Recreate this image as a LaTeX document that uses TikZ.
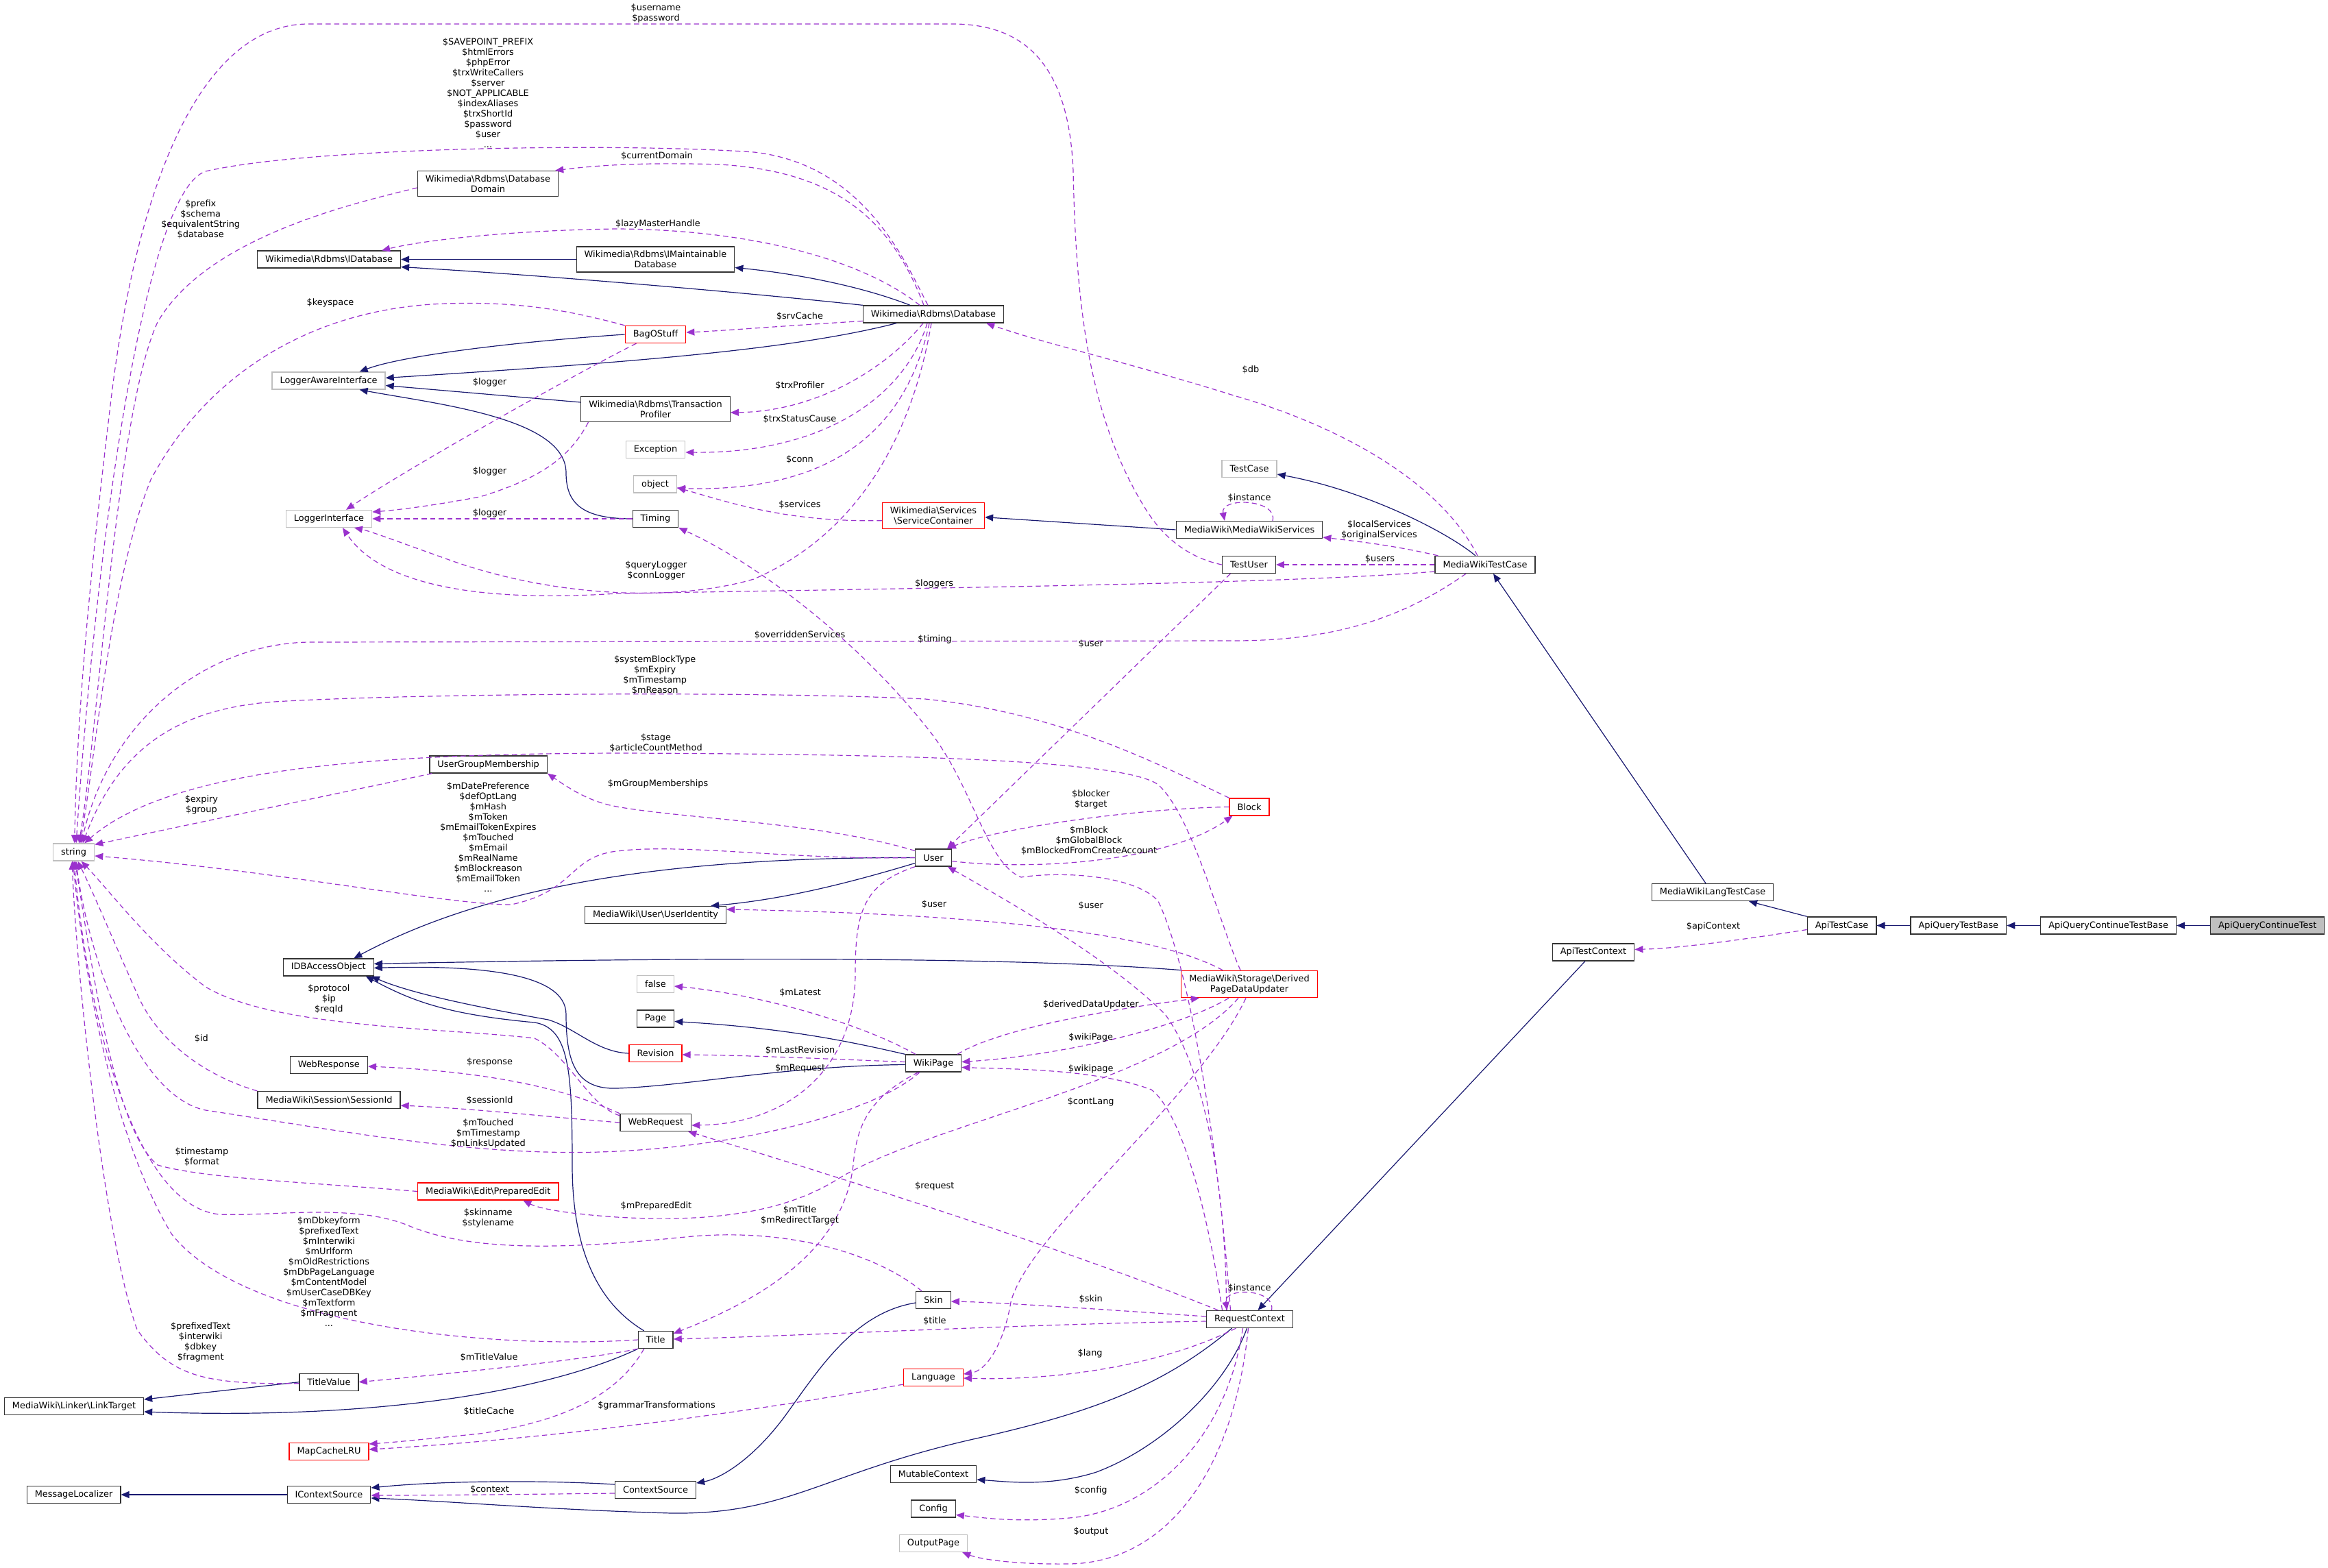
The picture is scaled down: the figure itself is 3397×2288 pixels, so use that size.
\documentclass[tikz,border=0pt]{standalone}
\usepackage{fontspec}
\setmainfont{DejaVu Sans}
\usepackage{tikz}
\usetikzlibrary{arrows.meta}
\definecolor{navyline}{HTML}{191970}
\definecolor{orchid}{HTML}{9A32CD}
\definecolor{greybox}{HTML}{BFBFBF}
\definecolor{redbox}{HTML}{FF0000}
\newcommand{\bsl}{\textbackslash}
\newcommand{\dxfont}{\fontsize{12.9}{15}\selectfont}
\tikzset{
  cls/.style={draw=black!80, fill=white, line width=1.3pt, font=\dxfont, align=center,
    inner xsep=11.5pt, inner ysep=6pt, minimum height=25pt},
  undoc/.style={cls, draw=greybox},
  trunc/.style={cls, draw=redbox},
  focus/.style={cls, fill=greybox},
  inherit/.style={draw=navyline, line width=1.2pt, -{Triangle[length=12pt,width=10pt]}},
  member/.style={draw=orchid, line width=1.2pt, dash pattern=on 7.5pt off 5pt,
    -{Triangle[length=12pt,width=10pt]}},
  lbl/.style={font=\dxfont, align=center, inner sep=0pt},
}

\begin{document}
\begin{tikzpicture}[x=1pt, y=-1pt]
  \useasboundingbox (0,0) rectangle (3397,2288);

  \node[cls] (dbdomain) at (712,268) {Wikimedia\bsl Rdbms\bsl Database\\Domain};
  \node[cls] (idatabase) at (480,378.5) {Wikimedia\bsl Rdbms\bsl IDatabase};
  \node[cls] (imaint) at (956.5,378.5) {Wikimedia\bsl Rdbms\bsl IMaintainable\\Database};
  \node[cls] (database) at (1362,458.5) {Wikimedia\bsl Rdbms\bsl Database};
  \node[trunc] (bagostuff) at (956.5,488) {BagOStuff};
  \node[undoc] (loggeraware) at (479.6,555.5) {LoggerAwareInterface};
  \node[cls] (trxprofiler) at (956.5,597) {Wikimedia\bsl Rdbms\bsl Transaction\\Profiler};
  \node[undoc] (exception) at (956.5,656) {Exception};
  \node[undoc] (object) at (956,706.5) {object};
  \node[undoc] (loggeriface) at (480,757) {LoggerInterface};
  \node[cls] (timing) at (956.5,757) {Timing};
  \node[trunc] (services) at (1362,752.7) {Wikimedia\bsl Services\\\bsl ServiceContainer};
  \node[undoc] (testcase) at (1823,684) {TestCase};
  \node[cls] (mwservices) at (1823,773) {MediaWiki\bsl MediaWikiServices};
  \node[cls] (testuser) at (1822.4,824) {TestUser};
  \node[cls] (mwtestcase) at (2167,824) {MediaWikiTestCase};
  \node[undoc] (string) at (107.6,1243.5) {string};
  \node[cls] (ugm) at (712.6,1115.5) {UserGroupMembership};
  \node[trunc] (block) at (1823,1177.4) {Block};
  \node[cls] (user) at (1362,1251.5) {User};
  \node[cls] (useridentity) at (956.5,1335) {MediaWiki\bsl User\bsl UserIdentity};
  \node[cls] (idbaccess) at (479.3,1411.4) {IDBAccessObject};
  \node[trunc] (derived) at (1823,1436) {MediaWiki\bsl Storage\bsl Derived\\PageDataUpdater};
  \node[undoc] (falsebox) at (956.5,1436) {false};
  \node[cls] (page) at (956.5,1486.5) {Page};
  \node[trunc] (revision) at (956.5,1537) {Revision};
  \node[cls] (wikipage) at (1362,1551.5) {WikiPage};
  \node[cls] (webrequest) at (956.8,1638) {WebRequest};
  \node[cls] (webresponse) at (479.8,1554) {WebResponse};
  \node[cls] (sessionid) at (480,1605) {MediaWiki\bsl Session\bsl SessionId};
  \node[trunc] (preparededit) at (712.3,1738.5) {MediaWiki\bsl Edit\bsl PreparedEdit};
  \node[cls] (skin) at (1362,1897) {Skin};
  \node[cls] (reqcontext) at (1823.5,1925) {RequestContext};
  \node[cls] (title) at (956.8,1955) {Title};
  \node[cls] (titlevalue) at (480,2016.7) {TitleValue};
  \node[cls] (linktarget) at (108,2052) {MediaWiki\bsl Linker\bsl LinkTarget};
  \node[trunc] (language) at (1362,2010) {Language};
  \node[trunc] (mapcache) at (480,2118) {MapCacheLRU};
  \node[cls] (mutablecontext) at (1362,2151) {MutableContext};
  \node[cls] (contextsource) at (956.5,2174) {ContextSource};
  \node[cls] (msglocalizer) at (107.6,2181) {MessageLocalizer};
  \node[cls] (icontextsource) at (480,2181) {IContextSource};
  \node[cls] (config) at (1362,2201.5) {Config};
  \node[undoc] (outputpage) at (1362,2252) {OutputPage};
  \node[cls] (mwlangtestcase) at (2499,1302) {MediaWikiLangTestCase};
  \node[cls] (apitestcontext) at (2325,1389.4) {ApiTestContext};
  \node[cls] (apitestcase) at (2687.6,1350.5) {ApiTestCase};
  \node[cls] (apiquerytestbase) at (2857.8,1350.5) {ApiQueryTestBase};
  \node[cls] (apiqcontbase) at (3076.6,1350.5) {ApiQueryContinueTestBase};
  \node[focus] (apiqcont) at (3308.7,1350.5) {ApiQueryContinueTest};

  \draw[inherit] (apiqcont) -- (apiqcontbase);
  \draw[inherit] (apiqcontbase) -- (apiquerytestbase);
  \draw[inherit] (apiquerytestbase) -- (apitestcase);
  \draw[inherit] (apitestcase.north west) -- ([xshift=53pt]mwlangtestcase.south);
  \draw[inherit] ([xshift=-10pt]mwlangtestcase.north) -- ([xshift=12pt]mwtestcase.south);
  \draw[inherit] ([xshift=-14pt]mwtestcase.north) .. controls (2110,775) and (1990,715) .. ([yshift=-8pt]testcase.east);
  \draw[inherit] (mwservices.west) -- ([yshift=-2pt]services.east);
  \draw[inherit] (imaint.west) -- (idatabase.east);
  \draw[inherit] (database.north west) .. controls (1100,428) and (800,402) .. ([yshift=-11pt]idatabase.east);
  \draw[inherit] ([xshift=-34pt]database.north) .. controls (1250,415) and (1150,398) .. ([yshift=-12pt]imaint.east);
  \draw[inherit] (bagostuff.west) .. controls (760,498) and (590,518) .. ([xshift=45pt]loggeraware.north);
  \draw[inherit] ([xshift=-54pt]database.south) .. controls (1150,512) and (900,530) .. ([yshift=4pt]loggeraware.east);
  \draw[inherit] ([yshift=10pt]trxprofiler.west) -- ([yshift=-7pt]loggeraware.east);
  \draw[inherit] (timing.west) .. controls (850,757) and (826,735) .. (826,690)
    .. controls (826,610) and (640,590) .. ([xshift=45pt]loggeraware.south);
  \draw[inherit] (user.west) .. controls (950,1250) and (700,1300) .. ([xshift=37pt]idbaccess.north);
  \draw[inherit] ([yshift=-8pt]user.west) .. controls (1250,1285) and (1150,1312) .. ([xshift=-23pt]useridentity.north east);
  \draw[inherit] (derived.north west) .. controls (1500,1398) and (1100,1395) .. ([yshift=5pt]idbaccess.east);
  \draw[inherit] (revision.west) .. controls (870,1535) and (840,1500) .. (800,1488)
    .. controls (700,1470) and (600,1450) .. ([xshift=-4pt]idbaccess.south east);
  \draw[inherit] ([xshift=-17pt]title.north) .. controls (870,1900) and (835,1820) .. (835,1700)
    .. controls (835,1560) and (830,1500) .. (780,1492) .. controls (650,1480) and (600,1460) .. ([xshift=-12pt]idbaccess.south east);
  \draw[inherit] ([yshift=-2pt]wikipage.west) .. controls (1150,1555) and (1000,1585) .. (900,1588)
    .. controls (840,1590) and (826,1550) .. (826,1480) .. controls (826,1420) and (700,1408) .. ([yshift=-1pt]idbaccess.east);
  \draw[inherit] (wikipage.north west) .. controls (1250,1522) and (1150,1500) .. ([yshift=-4pt]page.east);
  \draw[inherit] (title.south west) .. controls (800,2030) and (550,2072) .. ([yshift=-8pt]linktarget.east);
  \draw[inherit] (titlevalue.west) -- ([yshift=10pt]linktarget.east);
  \draw[inherit] ([yshift=-4pt]skin.west) .. controls (1250,1915) and (1200,1990) .. (1150,2060)
    .. controls (1100,2130) and (1050,2158) .. ([yshift=10pt]contextsource.east);
  \draw[inherit] ([xshift=-26pt]reqcontext.south) .. controls (1700,2020) and (1600,2060) .. (1420,2100)
    .. controls (1200,2150) and (1150,2210) .. (980,2208) .. controls (800,2203) and (650,2190) .. ([yshift=-5pt]icontextsource.east);
  \draw[inherit] ([yshift=8pt]contextsource.west) .. controls (800,2160) and (650,2160) .. ([yshift=10pt]icontextsource.east);
  \draw[inherit] (icontextsource.west) -- (msglocalizer.east);
  \draw[inherit] ([xshift=-4pt]reqcontext.south) .. controls (1790,2020) and (1700,2110) .. (1600,2148)
    .. controls (1530,2170) and (1470,2162) .. ([yshift=-8pt]mutablecontext.east);
  \draw[inherit] ([xshift=-12pt]apitestcontext.south) -- ([xshift=12pt]reqcontext.north);

  \draw[member] (testuser.west) .. controls (1740,815) and (1700,790) .. (1670,740)
    .. controls (1590,610) and (1570,450) .. (1566,250) .. controls (1560,100) and (1500,35) .. (1390,35)
    -- (450,35) .. controls (300,35) and (200,250) .. (160,600) .. controls (130,850) and (112,1050) .. (string.85);
  \draw[member] ([xshift=-8pt]database.north) .. controls (1320,380) and (1260,240) .. (1100,222)
    .. controls (900,208) and (450,215) .. (300,250) .. controls (210,280) and (140,800) .. (string.75);
  \draw[member] ([xshift=-14pt]database.north) .. controls (1300,320) and (1220,250) .. (1050,240)
    .. controls (950,237) and (880,240) .. ([xshift=-5pt]dbdomain.north east);
  \draw[member] ([yshift=-6pt]dbdomain.west) .. controls (500,300) and (300,350) .. (230,470)
    .. controls (170,600) and (145,1050) .. (string.60);
  \draw[member] ([xshift=-20pt]database.north) .. controls (1260,380) and (1100,335) .. (900,334)
    .. controls (750,336) and (620,350) .. ([xshift=-28pt]idatabase.north east);
  \draw[member] (bagostuff.north west) .. controls (820,450) and (750,440) .. (650,443)
    .. controls (450,450) and (300,550) .. (220,700) .. controls (160,850) and (140,1100) .. (string.55);
  \draw[member] ([xshift=-28pt]bagostuff.south) .. controls (850,540) and (600,680) .. ([xshift=25pt]loggeriface.north);
  \draw[member] ([xshift=-98pt]trxprofiler.south) .. controls (835,660) and (800,695) .. (700,725)
    .. controls (620,740) and (570,745) .. ([yshift=10pt]loggeriface.east);
  \draw[member] (timing.west) -- (loggeriface.east);
  \draw[member] ([yshift=-10pt]mwtestcase.west) .. controls (1900,850) and (1500,856) .. (900,866)
    .. controls (720,878) and (560,860) .. ([xshift=20pt]loggeriface.south);
  \draw[member] ([xshift=-3pt]database.south) .. controls (1330,640) and (1250,780) .. (1100,845)
    .. controls (980,880) and (800,870) .. (650,815) .. controls (580,790) and (540,775) .. ([xshift=37pt]loggeriface.south);
  \draw[member] ([yshift=-10pt]database.west) .. controls (1150,475) and (1050,483) .. ([yshift=3pt]bagostuff.east);
  \draw[member] ([xshift=-15pt]database.south) .. controls (1300,530) and (1200,600) .. ([yshift=-5pt]trxprofiler.east);
  \draw[member] ([xshift=-9pt]database.south) .. controls (1320,580) and (1200,662) .. ([yshift=-4pt]exception.east);
  \draw[member] ([xshift=-6pt]database.south) .. controls (1320,640) and (1200,718) .. ([yshift=-6pt]object.east);
  \draw[member] ([yshift=-7pt]services.west) .. controls (1150,762) and (1070,735) .. ([yshift=-5pt]object.east);
  \draw[member] ([xshift=-11pt]mwtestcase.north) .. controls (2100,700) and (1950,620) .. (1800,577)
    .. controls (1650,530) and (1520,500) .. ([xshift=-26pt]database.south east);
  \draw[member] ([xshift=34pt]mwservices.north) .. controls (1865,728) and (1780,725) .. ([xshift=-36pt]mwservices.north);
  \draw[member] ([xshift=-28pt]mwtestcase.south) .. controls (2050,900) and (1950,935) .. (1800,935)
    -- (450,937) .. controls (300,940) and (160,1050) .. (string.50);
  \draw[member] ([xshift=-27pt]testuser.south) -- ([xshift=20pt]user.north);
  \draw[member] (block.north west) .. controls (1700,1120) and (1550,1040) .. (1350,1020)
    .. controls (1100,1008) and (600,1012) .. (400,1024) .. controls (250,1035) and (170,1100) .. (string.45);
  \draw[member] ([xshift=-13pt]derived.north) .. controls (1780,1350) and (1740,1190) .. (1690,1145)
    .. controls (1640,1108) and (1300,1100) .. (900,1099) .. controls (550,1100) and (250,1120) .. (string.40);
  \draw[member] ([xshift=4pt]ugm.south west) -- (string.20);
  \draw[member] ([yshift=10pt]user.west) .. controls (1200,1200) and (1000,1195) .. (900,1177)
    .. controls (860,1170) and (830,1150) .. (ugm.south east);
  \draw[member] (user.west) .. controls (1150,1255) and (1000,1230) .. (900,1242)
    .. controls (830,1250) and (840,1300) .. (746,1320) .. controls (650,1320) and (400,1270) .. (string.-10);
  \draw[member] (block.west) .. controls (1650,1180) and (1450,1210) .. ([xshift=-6pt]user.north east);
  \draw[member] ([yshift=-5pt]user.east) .. controls (1500,1270) and (1700,1260) .. ([xshift=5pt]block.south west);
  \draw[member] ([xshift=-39pt]derived.north) .. controls (1700,1370) and (1500,1335) .. ([yshift=8pt]useridentity.east);
  \draw[member] ([xshift=-34pt]reqcontext.north) .. controls (1790,1750) and (1760,1560) .. (1700,1480)
    .. controls (1620,1400) and (1480,1320) .. ([xshift=-6pt]user.south east);
  \draw[member] ([xshift=-28pt]reqcontext.north) .. controls (1780,1700) and (1740,1420) .. (1690,1315)
    .. controls (1660,1280) and (1560,1270) .. (1490,1280) .. controls (1440,1260) and (1420,1150) .. (1359,1070)
    .. controls (1250,930) and (1100,820) .. (timing.south east);
  \draw[member] ([xshift=-30pt]derived.south) .. controls (1720,1500) and (1550,1540) .. ([yshift=2pt]wikipage.east);
  \draw[member] ([xshift=35pt]wikipage.north) .. controls (1450,1505) and (1600,1475) .. ([xshift=-73pt]derived.south);
  \draw[member] ([xshift=-40pt]reqcontext.north) .. controls (1760,1750) and (1720,1620) .. (1680,1590)
    .. controls (1600,1560) and (1480,1560) .. ([yshift=-6pt]wikipage.east);
  \draw[member] (user.south west) .. controls (1260,1290) and (1248,1330) .. (1248,1420)
    .. controls (1248,1560) and (1150,1640) .. ([yshift=-4pt]webrequest.east);
  \draw[member] ([xshift=-26pt]wikipage.north) .. controls (1250,1490) and (1100,1450) .. ([yshift=-3pt]falsebox.east);
  \draw[member] ([yshift=2pt]wikipage.west) .. controls (1200,1545) and (1100,1540) .. ([yshift=-2pt]revision.east);
  \draw[member] ([xshift=-22pt]wikipage.south) .. controls (1270,1600) and (1250,1640) .. (1245,1700)
    .. controls (1230,1830) and (1100,1900) .. ([yshift=-4pt]title.north east);
  \draw[member] ([xshift=-20pt]wikipage.south) .. controls (1280,1620) and (1100,1670) .. (900,1680)
    .. controls (700,1690) and (500,1650) .. (300,1620) .. controls (200,1600) and (130,1400) .. (string.-76);
  \draw[member] ([xshift=-46pt]reqcontext.north) .. controls (1600,1840) and (1300,1740) .. ([xshift=-5pt]webrequest.south east);
  \draw[member] (webrequest.north west) .. controls (850,1600) and (750,1565) .. ([yshift=-2pt]webresponse.east);
  \draw[member] (webrequest.west) .. controls (800,1630) and (700,1618) .. ([yshift=-8pt]sessionid.east);
  \draw[member] ([yshift=-3pt]webrequest.north west) .. controls (860,1615) and (830,1540) .. (780,1515)
    .. controls (650,1500) and (400,1500) .. (300,1440) .. controls (220,1380) and (160,1300) .. (string.-50);
  \draw[member] (sessionid.north west) .. controls (300,1570) and (230,1520) .. (200,1450)
    .. controls (160,1360) and (135,1300) .. (string.-66);
  \draw[member] (preparededit.west) .. controls (450,1725) and (300,1720) .. (230,1700)
    .. controls (170,1650) and (140,1450) .. (string.-82);
  \draw[member] ([xshift=-16pt]derived.south) .. controls (1700,1580) and (1350,1640) .. (1220,1722)
    .. controls (1150,1765) and (1050,1785) .. (900,1776) .. controls (840,1772) and (790,1765) .. ([xshift=51pt]preparededit.south);
  \draw[member] ([xshift=-17pt]skin.north) .. controls (1280,1830) and (1150,1790) .. (1000,1805)
    .. controls (850,1820) and (700,1830) .. (600,1790) .. controls (520,1755) and (400,1775) .. (320,1772)
    .. controls (200,1760) and (130,1500) .. (string.-88);
  \draw[member] (title.west) .. controls (700,1970) and (350,1930) .. (250,1800)
    .. controls (160,1650) and (120,1400) .. (string.-95);
  \draw[member] ([yshift=-2pt]titlevalue.west) .. controls (300,2020) and (250,2010) .. (200,1940)
    .. controls (150,1800) and (110,1400) .. (string.-100);
  \draw[member] (title.south west) .. controls (850,1985) and (650,2005) .. (titlevalue.east);
  \draw[member] ([xshift=-17pt]title.south) .. controls (910,2020) and (850,2070) .. (700,2092)
    .. controls (620,2100) and (570,2105) .. ([yshift=11pt]mapcache.east);
  \draw[member] ([yshift=-10pt]language.west) .. controls (1100,2060) and (800,2100) .. ([yshift=3pt]mapcache.east);
  \draw[member] ([yshift=-5pt]contextsource.west) .. controls (800,2180) and (650,2182) .. ([yshift=-1pt]icontextsource.east);
  \draw[member] ([yshift=4pt]reqcontext.west) .. controls (1600,1910) and (1450,1900) .. ([yshift=-2pt]skin.east);
  \draw[member] ([yshift=-3pt]reqcontext.west) .. controls (1500,1932) and (1200,1948) .. ([yshift=1pt]title.east);
  \draw[member] ([xshift=-20pt]reqcontext.south) .. controls (1700,1990) and (1550,2015) .. ([yshift=-1pt]language.east);
  \draw[member] ([xshift=-5pt]derived.south) .. controls (1750,1600) and (1500,1800) .. (1475,1900)
    .. controls (1465,1960) and (1440,2000) .. ([yshift=5pt]language.east);
  \draw[member] ([xshift=-10pt]reqcontext.south) .. controls (1790,2100) and (1680,2205) .. (1560,2215)
    .. controls (1480,2222) and (1430,2214) .. ([yshift=-9pt]config.east);
  \draw[member] ([xshift=-2pt]reqcontext.south) .. controls (1800,2150) and (1700,2280) .. (1560,2282)
    .. controls (1480,2283) and (1430,2275) .. ([xshift=-8pt]outputpage.south east);
  \draw[member] ([xshift=32pt]reqcontext.north) .. controls (1862,1880) and (1785,1878) .. ([xshift=-33pt]reqcontext.north);
  \draw[member] ([yshift=-6pt]apitestcase.west) .. controls (2550,1370) and (2450,1384) .. ([yshift=4pt]apitestcontext.east);
  \draw[member] ([xshift=5pt]mwtestcase.north west) .. controls (2030,795) and (1980,790) .. ([yshift=-11pt]mwservices.east);
  \draw[member] (mwtestcase.west) -- (testuser.east);

  \node[lbl] (lUserPass) at (957,19) {\$username\\\$password};
  \node[lbl] (lSavepoint) at (712,136) {\$SAVEPOINT\_PREFIX\\\$htmlErrors\\\$phpError\\\$trxWriteCallers\\\$server\\\$NOT\_APPLICABLE\\\$indexAliases\\\$trxShortId\\\$password\\\$user\\...};
  \node[lbl] (lPrefix) at (292.7,320.5) {\$prefix\\\$schema\\\$equivalentString\\\$database};
  \node[lbl] (lCurDomain) at (958.5,228) {\$currentDomain};
  \node[lbl] (lLazyMaster) at (960,327) {\$lazyMasterHandle};
  \node[lbl] (lKeyspace) at (482,442) {\$keyspace};
  \node[lbl] (lSrvCache) at (1167,462) {\$srvCache};
  \node[lbl] (lLoggerA) at (714.6,558.4) {\$logger};
  \node[lbl] (lTrxProfiler) at (1167,563) {\$trxProfiler};
  \node[lbl] (lTrxStatus) at (1167,612) {\$trxStatusCause};
  \node[lbl] (lConn) at (1167,671) {\$conn};
  \node[lbl] (lLoggerB) at (714.6,688) {\$logger};
  \node[lbl] (lServices) at (1167,737) {\$services};
  \node[lbl] (lLoggerC) at (714.6,749) {\$logger};
  \node[lbl] (lDb) at (1825,539.5) {\$db};
  \node[lbl] (lInstanceA) at (1823,727) {\$instance};
  \node[lbl] (lLocalServices) at (2012.4,773) {\$localServices\\\$originalServices};
  \node[lbl] (lUsers) at (2013.5,815.7) {\$users};
  \node[lbl] (lQueryLogger) at (957.4,832) {\$queryLogger\\\$connLogger};
  \node[lbl] (lLoggers) at (1363,852) {\$loggers};
  \node[lbl] (lOverridden) at (1167,927) {\$overriddenServices};
  \node[lbl] (lTiming) at (1364,932.5) {\$timing};
  \node[lbl] (lUserA) at (1591.7,940) {\$user};
  \node[lbl] (lSystemBlock) at (955.7,984.7) {\$systemBlockType\\\$mExpiry\\\$mTimestamp\\\$mReason};
  \node[lbl] (lStage) at (957,1084) {\$stage\\\$articleCountMethod};
  \node[lbl] (lGroupMem) at (960,1144) {\$mGroupMemberships};
  \node[lbl] (lExpiry) at (293.9,1174) {\$expiry\\\$group};
  \node[lbl] (lDatePref) at (712.3,1221.4) {\$mDatePreference\\\$defOptLang\\\$mHash\\\$mToken\\\$mEmailTokenExpires\\\$mTouched\\\$mEmail\\\$mRealName\\\$mBlockreason\\\$mEmailToken\\...};
  \node[lbl] (lBlocker) at (1591.7,1166) {\$blocker\\\$target};
  \node[lbl] (lMBlock) at (1589,1227) {\$mBlock\\\$mGlobalBlock\\\$mBlockedFromCreateAccount};
  \node[lbl] (lUserB) at (1363,1320) {\$user};
  \node[lbl] (lUserC) at (1591.7,1322) {\$user};
  \node[lbl] (lLatest) at (1167.6,1448.3) {\$mLatest};
  \node[lbl] (lProtocol) at (479.9,1458) {\$protocol\\\$ip\\\$reqId};
  \node[lbl] (lDerivedUpd) at (1591.7,1466) {\$derivedDataUpdater};
  \node[lbl] (lId) at (293.9,1516) {\$id};
  \node[lbl] (lWikiPageA) at (1591.7,1513.7) {\$wikiPage};
  \node[lbl] (lLastRev) at (1167.6,1532.7) {\$mLastRevision};
  \node[lbl] (lResponse) at (714.6,1550.4) {\$response};
  \node[lbl] (lMRequest) at (1167.6,1558.7) {\$mRequest};
  \node[lbl] (lWikiPageB) at (1591.7,1559.7) {\$wikipage};
  \node[lbl] (lSessionId) at (714.6,1606) {\$sessionId};
  \node[lbl] (lContLang) at (1591.7,1607.7) {\$contLang};
  \node[lbl] (lTouched) at (712.3,1654) {\$mTouched\\\$mTimestamp\\\$mLinksUpdated};
  \node[lbl] (lTimestamp) at (294.5,1688) {\$timestamp\\\$format};
  \node[lbl] (lRequest) at (1363.8,1730.6) {\$request};
  \node[lbl] (lPrepared) at (957.4,1760) {\$mPreparedEdit};
  \node[lbl] (lMTitle) at (1167,1773) {\$mTitle\\\$mRedirectTarget};
  \node[lbl] (lSkinname) at (712.3,1777) {\$skinname\\\$stylename};
  \node[lbl] (lDbkey) at (479.9,1856) {\$mDbkeyform\\\$prefixedText\\\$mInterwiki\\\$mUrlform\\\$mOldRestrictions\\\$mDbPageLanguage\\\$mContentModel\\\$mUserCaseDBKey\\\$mTextform\\\$mFragment\\...};
  \node[lbl] (lInstanceB) at (1823,1880) {\$instance};
  \node[lbl] (lSkin) at (1591.7,1896) {\$skin};
  \node[lbl] (lTitle) at (1363.8,1928) {\$title};
  \node[lbl] (lPrefixedText) at (292.7,1958) {\$prefixedText\\\$interwiki\\\$dbkey\\\$fragment};
  \node[lbl] (lLang) at (1590.6,1974.5) {\$lang};
  \node[lbl] (lTitleValue) at (713.5,1980.4) {\$mTitleValue};
  \node[lbl] (lGrammar) at (958,2051.4) {\$grammarTransformations};
  \node[lbl] (lTitleCache) at (713.5,2059.3) {\$titleCache};
  \node[lbl] (lContext) at (714.6,2174) {\$context};
  \node[lbl] (lConfig) at (1591.7,2175) {\$config};
  \node[lbl] (lOutput) at (1592,2235) {\$output};
  \node[lbl] (lApiContext) at (2500,1352) {\$apiContext};
\end{tikzpicture}
\end{document}
